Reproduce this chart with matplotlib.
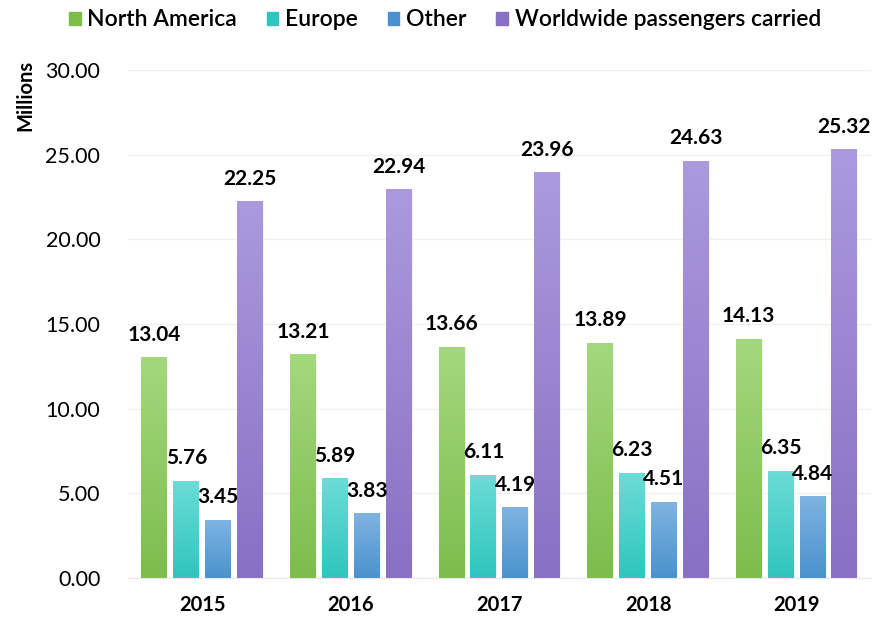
import numpy as np
import matplotlib.pyplot as plt
from matplotlib.colors import LinearSegmentedColormap

plt.rcParams['font.family'] = ['Lato', 'DejaVu Sans']

years = ['2015', '2016', '2017', '2018', '2019']
series = ['North America', 'Europe', 'Other', 'Worldwide passengers carried']
north_america = [13.04, 13.21, 13.66, 13.89, 14.13]
europe = [5.76, 5.89, 6.11, 6.23, 6.35]
other = [3.45, 3.83, 4.19, 4.51, 4.84]
worldwide = [22.25, 22.94, 23.96, 24.63, 25.32]
values = [north_america, europe, other, worldwide]

# (top colour, bottom colour) for the gradient fill
grads = [('#a4d87e', '#7cbd4c'),
         ('#6ddcd7', '#2ec6bd'),
         ('#7fb4e2', '#4a92cd'),
         ('#ab9ade', '#8870c3')]

fig = plt.figure(figsize=(8.77, 6.23), dpi=100)
ax = fig.add_axes([0.146, 0.072, 0.847, 0.816])

x = np.arange(len(years))
step = 0.215
width = 0.175
grad = np.linspace(1, 0, 256).reshape(-1, 1)

for i, (name, vals) in enumerate(zip(series, values)):
    pos = x + (i - 1.5) * step
    bars = ax.bar(pos, vals, width, color=grads[i][1], edgecolor='white',
                  linewidth=0.6, label=name, zorder=2)
    cmap = LinearSegmentedColormap.from_list(name, [grads[i][1], grads[i][0]])
    for b, v in zip(bars, vals):
        im = ax.imshow(grad, cmap=cmap, aspect='auto', zorder=2.5,
                       extent=[b.get_x(), b.get_x() + b.get_width(), 0, v])
        im.set_clip_path(b)
        ax.annotate(f'{v:.2f}', (b.get_x() + b.get_width() / 2, v),
                    xytext=(0, 9), textcoords='offset points', ha='center',
                    va='bottom', fontsize=15, fontweight='bold', color='black',
                    zorder=4)

ax.set_xlim(-0.5, 4.5)
ax.set_ylim(0, 30)
ax.set_yticks(np.arange(0, 30.1, 5))
ax.set_yticklabels([f'{t:.2f}' for t in np.arange(0, 30.1, 5)], fontsize=15.5)
ax.set_xticks(x)
ax.set_xticklabels(years, fontsize=14.5, fontweight='bold')
ax.tick_params(length=0, pad=12)
ax.tick_params(axis='y', pad=20)
ax.grid(axis='y', color='#f0f0f0', linewidth=1, zorder=0)
for s in ['top', 'right', 'left']:
    ax.spines[s].set_visible(False)
ax.spines['bottom'].set_color('#e8e8e8')

fig.text(25 / 877, 1 - 95 / 623, 'Millions', rotation=90, ha='center',
         va='center', fontsize=14.5, fontweight='bold')

handles = [plt.Rectangle((0, 0), 1, 1, color=g[1]) for g in grads]
fig.legend(handles, series, loc='center', bbox_to_anchor=(445 / 877, 1 - 20 / 623),
           ncol=4, frameon=False, handlelength=0.5, handleheight=0.5,
           handletextpad=0.3, columnspacing=1.3,
           prop={'size': 16.5, 'weight': 'semibold'})

fig.savefig('out.png', dpi=100)
